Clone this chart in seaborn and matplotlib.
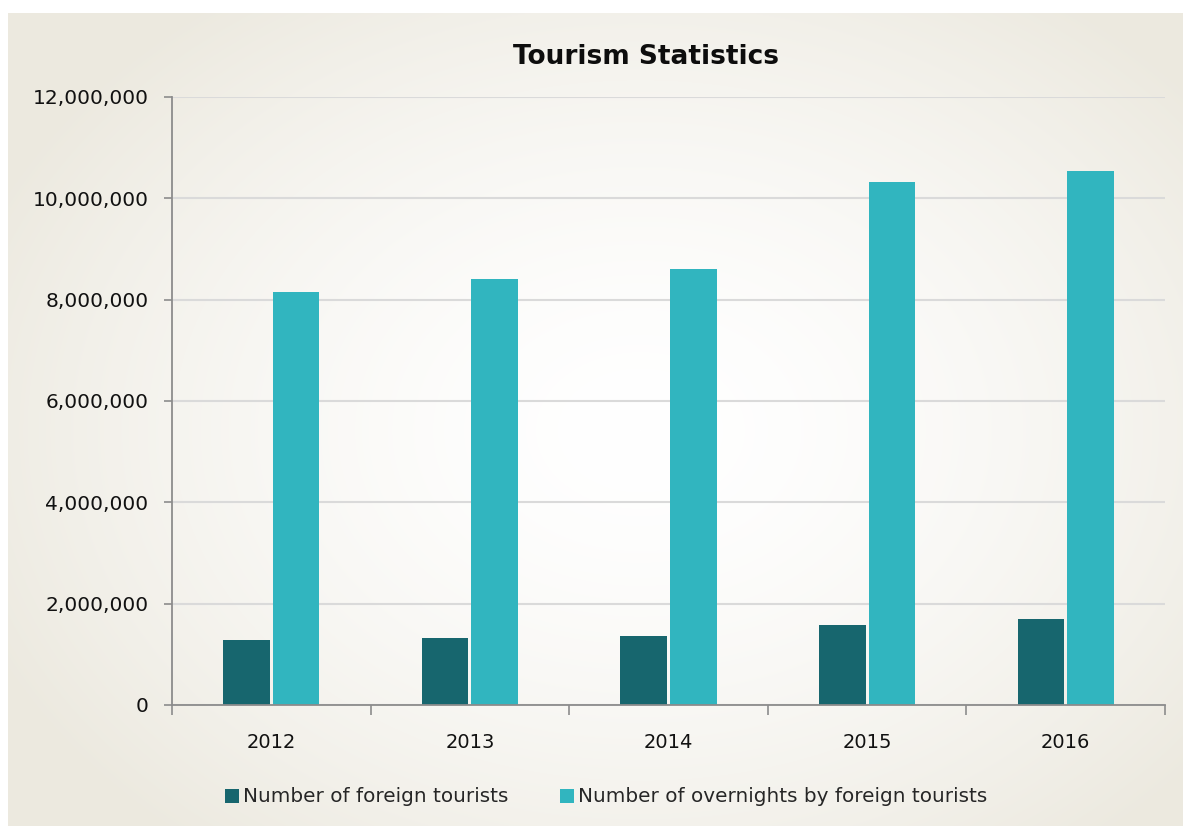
import numpy as np
import pandas as pd
import matplotlib
matplotlib.use("Agg")
import matplotlib.pyplot as plt
import seaborn as sns
from matplotlib.ticker import FuncFormatter, FixedLocator

years = ["2012", "2013", "2014", "2015", "2016"]
foreign_tourists = [1280000, 1320000, 1360000, 1580000, 1700000]
overnights = [8150000, 8410000, 8600000, 10320000, 10540000]
series_names = ["Number of foreign tourists", "Number of overnights by foreign tourists"]
colors = ["#17666E", "#31B5BF"]

df = pd.DataFrame({
    "Year": years * 2,
    "Value": foreign_tourists + overnights,
    "Series": [series_names[0]] * len(years) + [series_names[1]] * len(years),
})

sns.set_theme(style="white")
plt.rcParams['font.family'] = ['DejaVu Sans']

W, H = 1183, 826
fig = plt.figure(figsize=(W / 100, H / 100), dpi=100)

# radial gradient card background
bg = fig.add_axes([0, 0, 1, 1], zorder=-10)
bg.axis('off')
yy, xx = np.mgrid[0:H, 0:W]
r = np.sqrt(((xx - 640) / 720.0) ** 2 + ((yy - 430) / 540.0) ** 2)
t = np.clip(r, 0, 1) ** 1.6
c0 = np.array([1.0, 1.0, 1.0])
c1 = np.array([236, 233, 223]) / 255.0
img = c0 * (1 - t[..., None]) + c1 * t[..., None]
mask = (xx < 8) | (yy < 13)
img[mask] = 1.0
bg.imshow(img, extent=[0, W, H, 0], aspect='auto', interpolation='bilinear')
bg.set_xlim(0, W)
bg.set_ylim(H, 0)

ax = fig.add_axes([172 / W, 1 - 705 / H, (1165 - 172) / W, (705 - 97) / H])
ax.patch.set_alpha(0)

sns.barplot(data=df, x="Year", y="Value", hue="Series", palette=colors,
            width=0.5, gap=0.06, ax=ax, linewidth=0, saturation=1)

ax.set_xlim(-0.5, len(years) - 0.5)
ax.set_ylim(0, 12000000)
ax.set_yticks(np.arange(0, 12000001, 2000000))
ax.yaxis.set_major_formatter(FuncFormatter(lambda v, p: f"{int(v):,}"))
ax.set_xlabel("")
ax.set_ylabel("")
ax.yaxis.grid(True, color="#DADADA", linewidth=1.5)
ax.set_axisbelow(True)
for s in ["top", "right"]:
    ax.spines[s].set_visible(False)
for s in ["left", "bottom"]:
    ax.spines[s].set_color("#8C8C8C")
    ax.spines[s].set_linewidth(1.3)

ax.tick_params(axis='y', which='major', direction='out', length=6, width=1.2,
               color="#8C8C8C", left=True, pad=11, labelsize=14.5, labelcolor="#111111")
ax.tick_params(axis='x', which='major', length=0, pad=20, labelsize=14, labelcolor="#111111")
ax.xaxis.set_minor_locator(FixedLocator(np.arange(-0.5, len(years), 1.0)))
ax.tick_params(axis='x', which='minor', direction='out', length=7, width=1.2,
               color="#8C8C8C", bottom=True)

fig.text(646 / W, 1 - 57 / H, "Tourism Statistics", ha="center", va="center",
         fontsize=19, fontweight="bold", color="#0d0d0d")

sns.move_legend(ax, "center", bbox_to_anchor=(606 / W, 1 - 797 / H),
                bbox_transform=fig.transFigure, ncol=2, title=None, frameon=False,
                handlelength=0.7, handleheight=0.7, handletextpad=0.2,
                columnspacing=2.6, prop={'size': 14.4})

fig.savefig("out.png", dpi=100)
